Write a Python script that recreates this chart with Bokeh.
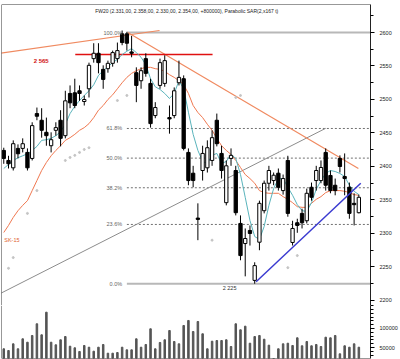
from bokeh.plotting import figure
from bokeh.layouts import column
from bokeh.models import Range1d, FixedTicker, Label, Span, ColumnDataSource, NumeralTickFormatter
from bokeh.embed import file_html
from bokeh.resources import INLINE

# ---------------- data ----------------
opens = [2424, 2409, 2398, 2427, 2427, 2421, 2412, 2479, 2469, 2451,
         2431, 2454, 2469, 2446, 2509, 2510, 2513, 2497, 2516, 2561,
         2569, 2545, 2546, 2554, 2561, 2598, 2598, 2571, 2540, 2528,
         2561, 2524, 2476, 2521, 2524, 2473, 2476, 2525, 2531, 2421,
         2390, 2323, 2394, 2398, 2409, 2469, 2419.5, 2346, 2412, 2394,
         2315, 2285, 2304.5, 2230, 2287, 2334, 2375, 2379, 2390, 2364,
         2409, 2286.6, 2316, 2330, 2319, 2369, 2379, 2379, 2421, 2386.6,
         2372, 2412, 2385, 2369, 2345, 2331]
highs = [2428, 2416, 2439, 2433, 2442, 2427, 2466, 2488, 2487, 2473,
         2451, 2466, 2484, 2513, 2521, 2531, 2521, 2506, 2555, 2584,
         2584, 2551, 2558, 2573, 2585, 2603, 2601, 2595, 2548, 2548,
         2569, 2531, 2496, 2561, 2566, 2491, 2518, 2558, 2536, 2427,
         2401, 2345, 2431, 2439, 2454, 2479, 2431, 2409, 2427, 2401,
         2327, 2307.5, 2312, 2257, 2349, 2379, 2401, 2391, 2397, 2388,
         2416, 2319, 2322, 2337, 2367, 2376, 2401, 2409, 2427, 2394,
         2382, 2416.6, 2419.5, 2376, 2360, 2358]
lows = [2404, 2397, 2394, 2412, 2421, 2394, 2409, 2469, 2443, 2431,
        2421, 2446, 2430, 2442, 2487, 2487, 2498, 2491, 2503, 2555,
        2539, 2516, 2540, 2549, 2555, 2581, 2573, 2563, 2496, 2516,
        2534, 2458, 2472, 2516, 2519, 2449, 2472, 2521, 2424, 2372,
        2369, 2290, 2379, 2391, 2401, 2430, 2382, 2342, 2401, 2327,
        2260, 2236, 2282, 2225, 2275, 2330, 2364, 2372, 2364, 2358,
        2325, 2282, 2301, 2307.5, 2315, 2349, 2364, 2375, 2364, 2360,
        2357, 2391, 2357, 2322, 2312, 2330]
closes = [2412, 2404, 2434, 2419, 2434, 2398, 2461, 2475, 2454, 2446,
          2440, 2458, 2442, 2498, 2495, 2491, 2509, 2500, 2551, 2569,
          2555, 2530, 2554, 2570, 2573, 2585, 2584, 2569, 2521, 2543,
          2539, 2464, 2488, 2555, 2558, 2471, 2513, 2533, 2427, 2379,
          2379, 2321, 2419.5, 2428, 2443, 2434, 2394, 2401, 2416.6, 2331,
          2267, 2292.5, 2300, 2252, 2345, 2375, 2394, 2387, 2369, 2382,
          2330, 2307.5, 2312, 2316, 2360, 2354, 2394, 2398.5, 2372, 2364,
          2364, 2400, 2382, 2330, 2343, 2354]
volumes = [46600, 42100, 59700, 46600, 72900, 63900, 81600, 112400, 83400, 142900,
           63900, 57100, 70300, 78900, 53400, 49200, 39500, 55300, 50800, 40300,
           50800, 57900, 35000, 35000, 36800, 50800, 43900, 43900, 72900, 50800,
           57900, 99200, 46600, 63200, 70300, 94700, 65800, 59700, 107900, 121100,
           92100, 118400, 86100, 46600, 66600, 68400, 68400, 70300, 52600, 112400,
           96600, 106100, 61300, 78900, 81600, 71800, 56100, 15000, 46600, 59700,
           61300, 55300, 75500, 54500, 65800, 54500, 57900, 52600, 77100, 75500,
           81600, 33400, 54500, 50800, 59700, 50800]
ma_fast = [2397, 2403, 2409, 2413, 2416, 2419, 2424, 2430, 2439, 2440,
           2442, 2446, 2452, 2463, 2479, 2490, 2498.5, 2506, 2513, 2522,
           2536, 2543, 2549, 2555, 2560, 2567, 2572, 2576, 2570, 2563,
           2552, 2531, 2519, 2515, 2509, 2501.5, 2509, 2528, 2516, 2481,
           2448, 2424, 2407.5, 2404.5, 2416.6, 2419.5, 2404.5, 2407.5, 2418, 2412,
           2388, 2354, 2319.4, 2295.5, 2291, 2310.5, 2342, 2367, 2382, 2382,
           2369, 2357, 2343, 2334, 2333, 2346, 2366, 2379, 2389.6, 2394,
           2392.5, 2389.6, 2385, 2372, 2363, 2358]
ma_sk15 = [2301.5, 2312, 2324, 2334, 2342, 2349, 2364, 2379, 2394, 2406,
           2416, 2424, 2431, 2439, 2443, 2448, 2454, 2458, 2464, 2473,
           2484, 2491, 2500, 2507, 2516, 2525, 2533, 2539, 2543, 2546,
           2548, 2548, 2546, 2545, 2542, 2537, 2533, 2528, 2522, 2509,
           2491, 2480.6, 2473, 2463, 2454, 2442, 2431, 2424, 2418, 2409,
           2398.5, 2388, 2382, 2375, 2364, 2361, 2360, 2360, 2360, 2355,
           2351, 2346, 2340, 2339, 2339, 2345, 2351, 2355, 2361, 2364,
           2364, 2364, 2363, 2361, 2358, 2357]
sar_idx = [1, 2, 5, 7, 13, 14, 15, 16, 17, 18, 24, 26, 44, 49, 50, 60, 62]
sar_val = [2248, 2264, 2330, 2364, 2409, 2413.5, 2416.6, 2421, 2425.4, 2428,
           2498.5, 2506, 2290, 2503, 2506, 2249, 2267]

fib_high = 2600
fib_low = 2225
fib_pct = [100.0, 61.8, 50.0, 38.2, 23.6, 0.0]
fib_labels = ["100.0%", "61.8%", "50.0%", "38.2%", "23.6%", "0.0%"]

# trend lines (candle index, price)
tl_up_x, tl_up_y = [-0.7, 32.9], [2569, 2603]          # orange, top left
tl_down_x, tl_down_y = [26.2, 74.9], [2600, 2397]      # orange, falling
tl_gray_x, tl_gray_y = [-0.7, 68.0], [2210.5, 2457]    # gray support
tl_blue_x, tl_blue_y = [53.3, 75.4], [2228, 2375]      # blue support
res_level, res_x0, res_x1 = 2567, 15.1, 44.1           # red resistance

title_text = "FW20 (2.331,00, 2.358,00, 2.330,00, 2.354,00, +800000), Parabolic SAR(2,x167 t)"

price_ticks = list(range(2200, 2601, 50))
price_minor = list(range(2200, 2626, 25))
vol_ticks = [50000, 100000]
vol_minor = list(range(30000, 160001, 10000))

FONT = "Liberation Sans"

# ---------------- price panel ----------------
idx = list(range(len(opens)))
xr = Range1d(-0.48, 77.46)
p = figure(width=400, height=305, x_range=xr, y_range=Range1d(2192.5, 2641.8),
           output_backend="svg", toolbar_location=None,
           x_axis_location=None, y_axis_location="right",
           min_border_left=1, min_border_right=28, min_border_top=4, min_border_bottom=0)
p.grid.visible = False
p.outline_line_color = None
p.background_fill_color = "white"
p.border_fill_color = "white"

ax = p.yaxis[0]
ax.ticker = FixedTicker(ticks=price_ticks, minor_ticks=price_minor)
ax.major_label_text_font = FONT
ax.major_label_text_font_size = "5.5px"
ax.major_label_text_color = "#222222"
ax.major_tick_out = 4
ax.major_tick_in = 0
ax.minor_tick_out = 3
ax.minor_tick_in = 0
ax.major_label_standoff = 5
ax.axis_line_color = "#222222"

# fib lines
fib_lv = [fib_low + pc / 100.0 * (fib_high - fib_low) for pc in fib_pct]
for pc, lv, lab in zip(fib_pct, fib_lv, fib_labels):
    if pc in (0.0, 100.0):
        p.line([26.0, 77.46], [lv, lv], line_color="#b8b8b8", line_width=2)
    else:
        p.line([26.0, 77.46], [lv, lv], line_color="#707070", line_width=1, line_dash="2 2")
    p.add_layout(Label(x=25.0, y=lv, text=lab, text_font=FONT, text_font_size="5.5px",
                       text_color="#666666", text_align="right", text_baseline="middle"))

# trend lines
p.line(tl_gray_x, tl_gray_y, line_color="#8c8c8c", line_width=1)
p.line(tl_up_x, tl_up_y, line_color="#f08a60", line_width=1.2)
p.line(tl_down_x, tl_down_y, line_color="#f08a60", line_width=1.2)
p.line([res_x0, res_x1], [res_level, res_level], line_color="#e01010", line_width=1.5)

# moving averages
p.line(idx, ma_sk15, line_color="#f07850", line_width=1)
p.line(idx, ma_fast, line_color="#5ab4bc", line_width=1)

# candles
src = ColumnDataSource(dict(
    x=idx, o=opens, h=highs, l=lows, c=closes,
    top=[max(o, c) for o, c in zip(opens, closes)],
    bot=[min(o, c) for o, c in zip(opens, closes)],
    fill=["black" if c < o else "white" for o, c in zip(opens, closes)],
))
p.segment(x0="x", y0="h", x1="x", y1="l", source=src, line_color="black", line_width=1)
p.vbar(x="x", top="top", bottom="bot", width=0.7, source=src,
       fill_color="fill", line_color="black", line_width=1)

p.line(tl_blue_x, tl_blue_y, line_color="#3a3ad0", line_width=1.5)

# parabolic SAR dots
p.scatter(sar_idx, sar_val, size=2, color="#c4c4c4")

# text labels
p.add_layout(Label(x=19.3, y=2632.8, text=title_text, text_font=FONT, text_font_size="5px",
                   text_color="#222222", text_baseline="middle"))
p.add_layout(Label(x=7.9, y=2557, text="2 565", text_font=FONT, text_font_size="6px",
                   text_font_style="bold", text_color="#d01010", text_align="center",
                   text_baseline="middle"))
p.add_layout(Label(x=47.7, y=2219, text="2 225", text_font=FONT, text_font_size="5.5px",
                   text_color="#333333", text_align="center", text_baseline="middle"))
p.add_layout(Label(x=0.1, y=2290, text="SK-15", text_font=FONT, text_font_size="5.5px",
                   text_color="#e06030", text_baseline="middle"))

p.add_layout(Span(location=-0.48, dimension="height", line_color="#333333", line_width=1))
p.add_layout(Span(location=2641.8, dimension="width", line_color="#333333", line_width=1))

# ---------------- volume panel ----------------
pv = figure(width=400, height=54, x_range=xr, y_range=Range1d(21053, 160526),
            output_backend="svg", toolbar_location=None,
            x_axis_location=None, y_axis_location="right",
            min_border_left=1, min_border_right=28, min_border_top=0, min_border_bottom=1)
pv.grid.visible = False
pv.outline_line_color = None
pv.background_fill_color = "white"
pv.border_fill_color = "white"
vax = pv.yaxis[0]
vax.ticker = FixedTicker(ticks=vol_ticks, minor_ticks=vol_minor)
vax.formatter = NumeralTickFormatter(format="0")
vax.major_label_text_font = FONT
vax.major_label_text_font_size = "5.5px"
vax.major_label_text_color = "#222222"
vax.major_tick_out = 4
vax.major_tick_in = 0
vax.minor_tick_out = 3
vax.minor_tick_in = 0
vax.major_label_standoff = 5
vax.axis_line_color = "#222222"

pv.vbar(x=idx, top=volumes, bottom=0, width=0.32, color="#555555")
pv.add_layout(Span(location=-0.48, dimension="height", line_color="#333333", line_width=1))
pv.add_layout(Span(location=21053, dimension="width", line_color="#333333", line_width=1))

layout = column(p, pv, spacing=0)
open("out.html", "w").write(file_html(layout, INLINE))
